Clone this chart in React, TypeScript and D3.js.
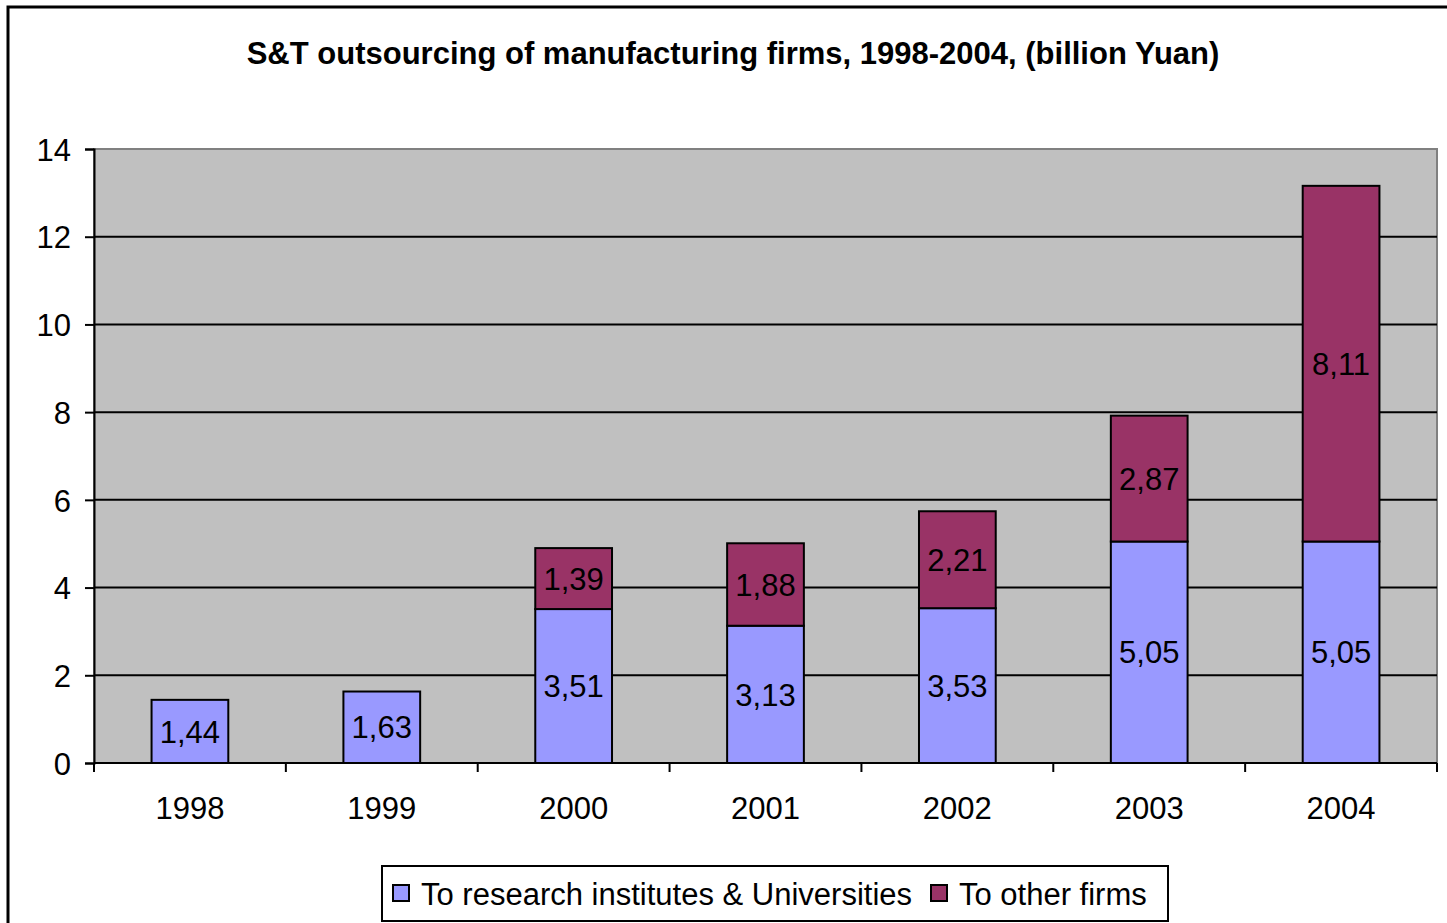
import React, { useRef, useEffect } from 'react'
import * as d3 from 'd3'

const years = ['1998', '1999', '2000', '2001', '2002', '2003', '2004']
const toResearch = [1.44, 1.63, 3.51, 3.13, 3.53, 5.05, 5.05]
const toFirms = [0, 0, 1.39, 1.88, 2.21, 2.87, 8.11]
const seriesNames = ['To research institutes & Universities', 'To other firms']
const yTicks = [0, 2, 4, 6, 8, 10, 12, 14]

const blue = '#9999FF'
const maroon = '#993366'
const font = '"Liberation Sans", Arial, sans-serif'

const App = () => {
	const svgRef = useRef<SVGSVGElement | null>(null)

	const width = 1447,
		height = 923
	const left = 94,
		right = 1437,
		top = 149,
		bottom = 763

	useEffect(() => {
		const svg = d3.select(svgRef.current)
		svg.selectAll('*').remove()

		const x = d3.scaleBand().domain(years).range([left, right])
		const y = d3.scaleLinear().domain([0, 14]).range([bottom, top])
		const barW = x.bandwidth() * 0.4

		// outer frame
		svg
			.append('rect')
			.attr('x', 8)
			.attr('y', 7)
			.attr('width', 1480)
			.attr('height', 960)
			.attr('fill', 'white')
			.attr('stroke', 'black')
			.attr('stroke-width', 3)

		svg
			.append('text')
			.attr('x', 733)
			.attr('y', 64)
			.attr('text-anchor', 'middle')
			.style('font-family', font)
			.style('font-weight', 'bold')
			.style('font-size', '31px')
			.text('S&T outsourcing of manufacturing firms, 1998-2004, (billion Yuan)')

		// plot area
		svg
			.append('rect')
			.attr('x', left)
			.attr('y', top)
			.attr('width', right - left)
			.attr('height', bottom - top)
			.attr('fill', '#C0C0C0')
			.attr('stroke', '#808080')
			.attr('stroke-width', 2)

		// gridlines
		svg
			.selectAll('line.grid')
			.data(yTicks.filter((t) => t > 0 && t < 14))
			.enter()
			.append('line')
			.attr('x1', left)
			.attr('x2', right)
			.attr('y1', (d) => y(d))
			.attr('y2', (d) => y(d))
			.attr('stroke', 'black')
			.attr('stroke-width', 2)

		// y axis
		const yAxis = d3
			.axisLeft(y)
			.tickValues(yTicks)
			.tickSize(9)
			.tickPadding(14)
			.tickFormat((d) => String(d))
		const ya = svg.append('g').attr('transform', `translate(${left},0)`).call(yAxis)
		ya.select('.domain').attr('stroke', 'black').attr('stroke-width', 2)
		ya.selectAll('line').attr('stroke', 'black').attr('stroke-width', 2)
		ya.selectAll('text')
			.style('font-family', font)
			.style('font-size', '31px')
			.attr('fill', 'black')
			.attr('dy', '0.36em')

		// x axis baseline + ticks at band boundaries
		svg
			.append('line')
			.attr('x1', left)
			.attr('x2', right)
			.attr('y1', bottom)
			.attr('y2', bottom)
			.attr('stroke', 'black')
			.attr('stroke-width', 2)
		const bounds = years.map((d) => x(d)!).concat([right])
		svg
			.selectAll('line.xt')
			.data(bounds)
			.enter()
			.append('line')
			.attr('x1', (d) => d)
			.attr('x2', (d) => d)
			.attr('y1', bottom)
			.attr('y2', bottom + 9)
			.attr('stroke', 'black')
			.attr('stroke-width', 2)
		svg
			.selectAll('text.xl')
			.data(years)
			.enter()
			.append('text')
			.attr('x', (d) => x(d)! + x.bandwidth() / 2)
			.attr('y', 819)
			.attr('text-anchor', 'middle')
			.style('font-family', font)
			.style('font-size', '31px')
			.text((d) => d)

		// stacked bars
		const rows = years.map((yr, i) => ({ year: yr, a: toResearch[i], b: toFirms[i] }))
		const stack = d3.stack<any>().keys(['a', 'b'])(rows)
		const colors = [blue, maroon]
		stack.forEach((layer, li) => {
			const g = svg.append('g')
			layer.forEach((seg: any) => {
				const v = seg[1] - seg[0]
				if (v <= 0) return
				const cx = x(seg.data.year)! + x.bandwidth() / 2
				g.append('rect')
					.attr('x', cx - barW / 2)
					.attr('y', y(seg[1]))
					.attr('width', barW)
					.attr('height', y(seg[0]) - y(seg[1]))
					.attr('fill', colors[li])
					.attr('stroke', 'black')
					.attr('stroke-width', 2)
				g.append('text')
					.attr('x', cx)
					.attr('y', (y(seg[0]) + y(seg[1])) / 2)
					.attr('dy', '0.36em')
					.attr('text-anchor', 'middle')
					.style('font-family', font)
					.style('font-size', '31px')
					.text(d3.format('.2f')(v).replace('.', ','))
			})
		})

		// legend
		const lg = svg.append('g')
		lg.append('rect')
			.attr('x', 382)
			.attr('y', 866)
			.attr('width', 786)
			.attr('height', 55)
			.attr('fill', 'white')
			.attr('stroke', 'black')
			.attr('stroke-width', 2)
		const items = [
			{ name: seriesNames[0], color: blue, x: 393 },
			{ name: seriesNames[1], color: maroon, x: 931 },
		]
		items.forEach((it) => {
			lg.append('rect')
				.attr('x', it.x)
				.attr('y', 885)
				.attr('width', 16)
				.attr('height', 16)
				.attr('fill', it.color)
				.attr('stroke', 'black')
				.attr('stroke-width', 2)
			lg.append('text')
				.attr('x', it.x + 28)
				.attr('y', 905)
				.style('font-family', font)
				.style('font-size', '31px')
				.text(it.name)
		})
	}, [])

	return (
		<svg
			ref={svgRef}
			width={width}
			height={height}
			style={{ position: 'absolute', left: 0, top: 0, background: 'white' }}
		></svg>
	)
}

export default App
